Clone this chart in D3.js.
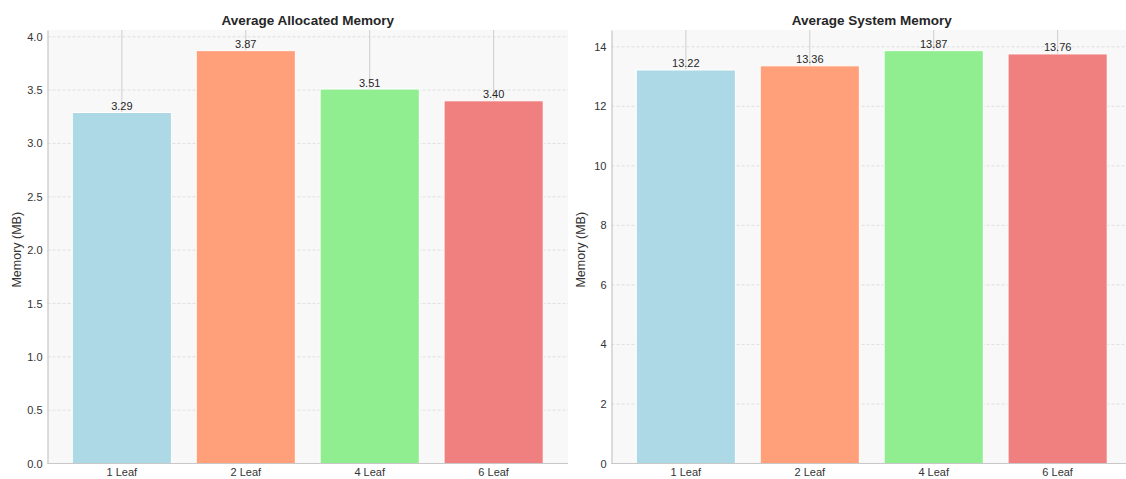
<!DOCTYPE html>
<html>
<head>
<meta charset="utf-8">
<script src="https://cdn.jsdelivr.net/npm/d3@7"></script>
<style>
  html, body { margin: 0; padding: 0; background: #ffffff; }
  svg { display: block; font-family: "Liberation Sans", Arial, sans-serif; }
</style>
</head>
<body>
<svg id="chart" width="1126" height="479"></svg>
<script>
// Benchmark results: memory use per leaf configuration
const categories = ["1 Leaf", "2 Leaf", "4 Leaf", "6 Leaf"];
const allocatedMemory = [3.29, 3.87, 3.51, 3.40];
const systemMemory = [13.22, 13.36, 13.87, 13.76];
const allocatedTicks = [0, 0.5, 1.0, 1.5, 2.0, 2.5, 3.0, 3.5, 4.0];
const systemTicks = [0, 2, 4, 6, 8, 10, 12, 14];
const barColors = ["#ADD8E6", "#FFA07A", "#90EE90", "#F08080"];

const svg = d3.select("#chart");

const panels = [
  { title: "Average Allocated Memory", values: allocatedMemory, ticks: allocatedTicks,
    fmt: d3.format(".1f"), left: 47.5, right: 568 },
  { title: "Average System Memory", values: systemMemory, ticks: systemTicks,
    fmt: d3.format("d"), left: 611.5, right: 1132 }
];
const plotTop = 30, plotBottom = 463.5;

panels.forEach(p => {
  const g = svg.append("g");
  const w = p.right - p.left;

  // x: bars take 0.8 of each step, with a 0.6-step margin at both ends
  const x = d3.scaleBand().domain(categories)
    .range([p.left, p.right]).paddingInner(0.2).paddingOuter(0.2);

  const y = d3.scaleLinear().domain([0, d3.max(p.values) * 1.05]).range([plotBottom, plotTop]);

  // plot background
  g.append("rect").attr("x", p.left).attr("y", plotTop)
    .attr("width", w).attr("height", plotBottom - plotTop).attr("fill", "#f8f8f8");

  // horizontal dashed grid
  g.append("g").selectAll("line").data(p.ticks).join("line")
    .attr("x1", p.left).attr("x2", p.right)
    .attr("y1", d => y(d)).attr("y2", d => y(d))
    .attr("stroke", "#d9d9d9").attr("stroke-width", 0.8)
    .attr("stroke-dasharray", "3,2");

  // vertical grid at category centers
  g.append("g").selectAll("line").data(categories).join("line")
    .attr("x1", d => x(d) + x.bandwidth() / 2).attr("x2", d => x(d) + x.bandwidth() / 2)
    .attr("y1", plotTop).attr("y2", plotBottom)
    .attr("stroke", "#cfcfcf").attr("stroke-width", 1);

  // bars
  g.append("g").selectAll("rect").data(p.values).join("rect")
    .attr("x", (d, i) => x(categories[i]))
    .attr("y", d => y(d))
    .attr("width", x.bandwidth())
    .attr("height", d => plotBottom - y(d))
    .attr("fill", (d, i) => barColors[i])
    .attr("stroke", "#ffffff").attr("stroke-width", 1);

  // value labels
  g.append("g").selectAll("text").data(p.values).join("text")
    .attr("x", (d, i) => x(categories[i]) + x.bandwidth() / 2)
    .attr("y", d => y(d) - 2.5)
    .attr("text-anchor", "middle")
    .attr("font-size", 11).attr("fill", "#262626")
    .text(d => d.toFixed(2));

  // y axis
  const yAxis = d3.axisLeft(y).tickValues(p.ticks).tickFormat(p.fmt).tickSize(0).tickPadding(5);
  const ya = g.append("g").attr("transform", `translate(${p.left},0)`).call(yAxis);
  ya.select(".domain").attr("stroke", "#c8c8c8").attr("stroke-width", 1.2);
  ya.selectAll("text").attr("font-size", 11).attr("fill", "#333333")
    .attr("font-family", "'Liberation Sans', Arial, sans-serif");

  // x axis
  const xAxis = d3.axisBottom(x).tickSize(0).tickPadding(5);
  const xa = g.append("g").attr("transform", `translate(0,${plotBottom})`).call(xAxis);
  xa.select(".domain").attr("stroke", "#c8c8c8").attr("stroke-width", 1.2)
    .attr("d", `M${p.left},0H${p.right}`);
  xa.selectAll("text").attr("font-size", 11).attr("fill", "#333333")
    .attr("font-family", "'Liberation Sans', Arial, sans-serif");

  // y label
  g.append("text")
    .attr("transform", `translate(${p.left - 26.5},${(plotTop + plotBottom) / 2 + 3}) rotate(-90)`)
    .attr("text-anchor", "middle")
    .attr("font-size", 12.5).attr("fill", "#333333")
    .text("Memory (MB)");

  // title
  g.append("text")
    .attr("x", (p.left + p.right) / 2 - (p.right > 1126 ? 0 : 0))
    .attr("y", 24.5)
    .attr("text-anchor", "middle")
    .attr("font-size", 13.5).attr("font-weight", "bold").attr("fill", "#262626")
    .text(p.title);
});
</script>
</body>
</html>
